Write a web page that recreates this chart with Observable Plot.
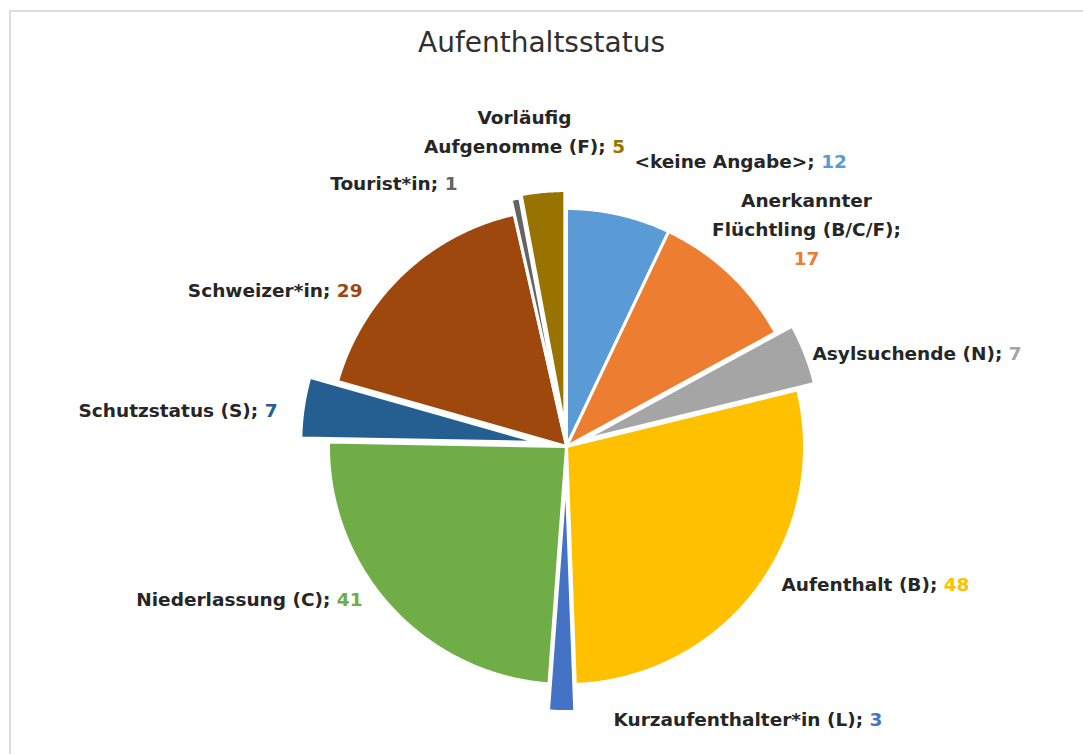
<!DOCTYPE html>
<html>
<head>
<meta charset="utf-8">
<script src="https://cdn.jsdelivr.net/npm/d3@7"></script>
<script src="https://cdn.jsdelivr.net/npm/@observablehq/plot@0.6"></script>
<style>
  html, body { margin: 0; padding: 0; background: #fff; width: 1083px; height: 754px; overflow: hidden; }
  #frame { position: absolute; left: 9px; top: 10px; width: 1200px; height: 900px;
           border-left: 2px solid #dcdcdc; border-top: 2px solid #dcdcdc; }
  #title { position: absolute; left: 0; width: 1083px; top: 26px; text-align: center;
           font-family: "DejaVu Sans", sans-serif; font-size: 28px; color: #303030; }
  #chart { position: absolute; left: 0; top: 70px; }
</style>
</head>
<body>
<div id="frame"></div>
<div id="title">Aufenthaltsstatus</div>
<div id="chart"></div>
<script>
// ---- data ----
const categories = [
  "<keine Angabe>",
  "Anerkannter Flüchtling (B/C/F)",
  "Asylsuchende (N)",
  "Aufenthalt (B)",
  "Kurzaufenthalter*in (L)",
  "Niederlassung (C)",
  "Schutzstatus (S)",
  "Schweizer*in",
  "Tourist*in",
  "Vorläufig Aufgenomme (F)"
];
const values = [12, 17, 7, 48, 3, 41, 7, 29, 1, 5];
const colors = ["#5B9BD5", "#ED7D31", "#A5A5A5", "#FFC000", "#4472C4",
                "#70AD47", "#255E91", "#9E480E", "#636363", "#997300"];
// explosion distance of each slice (px)
const explode = [0, 0, 18, 0, 27, 0, 28, 0, 15, 18];

// ---- label layout (page pixels), lines of black text; number goes on numberLine ----
const labelLayout = [
  {lines: ["<keine Angabe>;"], numberLine: 0, x: 634, y: 162, anchor: "start"},
  {lines: ["Anerkannter", "Flüchtling (B/C/F);", ""], numberLine: 2, x: 806, y: 201, anchor: "middle"},
  {lines: ["Asylsuchende (N);"], numberLine: 0, x: 812, y: 354, anchor: "start"},
  {lines: ["Aufenthalt (B);"], numberLine: 0, x: 781, y: 585, anchor: "start"},
  {lines: ["Kurzaufenthalter*in (L);"], numberLine: 0, x: 613, y: 720, anchor: "start"},
  {lines: ["Niederlassung (C);"], numberLine: 0, x: 362, y: 600, anchor: "end"},
  {lines: ["Schutzstatus (S);"], numberLine: 0, x: 277, y: 411, anchor: "end"},
  {lines: ["Schweizer*in;"], numberLine: 0, x: 362, y: 291, anchor: "end"},
  {lines: ["Tourist*in;"], numberLine: 0, x: 457, y: 184, anchor: "end"},
  {lines: ["Vorläufig", "Aufgenomme (F);"], numberLine: 1, x: 524, y: 118, anchor: "middle"}
];

// ---- geometry ----
const W = 1083, H = 684, TOP = 70;
const CX = 566, CY = 446, R = 238;
const FONT_SIZE = 18.5, LINE_H = 29;
const FONT_FAMILY = "DejaVu Sans";
const FONT = `bold ${FONT_SIZE}px "${FONT_FAMILY}"`;

const pie = d3.pie().sort(null).value(d => d.value);
const rows = categories.map((c, i) => ({name: c, value: values[i], color: colors[i], explode: explode[i]}));
const arcs = pie(rows);

const slicePts = [];
arcs.forEach(a => {
  const mid = (a.startAngle + a.endAngle) / 2;
  const ox = a.data.explode * Math.sin(mid), oy = a.data.explode * Math.cos(mid);
  const n = Math.max(2, Math.ceil((a.endAngle - a.startAngle) / (Math.PI / 360)));
  slicePts.push({name: a.data.name, x: ox, y: oy});
  for (let k = 0; k <= n; k++) {
    const t = a.startAngle + (a.endAngle - a.startAngle) * k / n;
    slicePts.push({name: a.data.name, x: ox + R * Math.sin(t), y: oy + R * Math.cos(t)});
  }
  slicePts.push({name: a.data.name, x: ox, y: oy});
});

// ---- labels: measure text to place black name + coloured value ----
const ctx = document.createElement("canvas").getContext("2d");
ctx.font = FONT;
const tw = s => ctx.measureText(s).width;
const textPieces = [];
labelLayout.forEach((L, i) => {
  const num = String(values[i]);
  L.lines.forEach((line, j) => {
    const hasNum = j === L.numberLine;
    const wBlack = line ? tw(line) : 0;
    const gap = hasNum && line ? tw(" ") : 0;
    const total = wBlack + gap + (hasNum ? tw(num) : 0);
    let left = L.x;
    if (L.anchor === "end") left = L.x - total;
    else if (L.anchor === "middle") left = L.x - total / 2;
    const py = L.y + j * LINE_H;
    if (line) textPieces.push({text: line, x: left - CX, y: CY - py, fill: "#262626"});
    if (hasNum) textPieces.push({text: num, x: left + wBlack + gap - CX, y: CY - py, fill: colors[i]});
  });
});

const chart = Plot.plot({
  width: W, height: H,
  margin: 0,
  x: {domain: [-CX, W - CX], range: [0, W], axis: null},
  y: {domain: [CY - (TOP + H), CY - TOP], range: [H, 0], axis: null},
  color: {domain: categories, range: colors},
  marks: [
    Plot.line(slicePts, {x: "x", y: "y", z: "name", fill: "name", stroke: "white", strokeWidth: 3, strokeLinejoin: "miter"}),
    Plot.text(textPieces, {x: "x", y: "y", text: "text", fill: d => d.fill, textAnchor: "start",
      fontSize: FONT_SIZE, fontWeight: "bold", fontFamily: FONT_FAMILY})
  ]
});
document.getElementById("chart").appendChild(chart);
</script>
</body>
</html>
